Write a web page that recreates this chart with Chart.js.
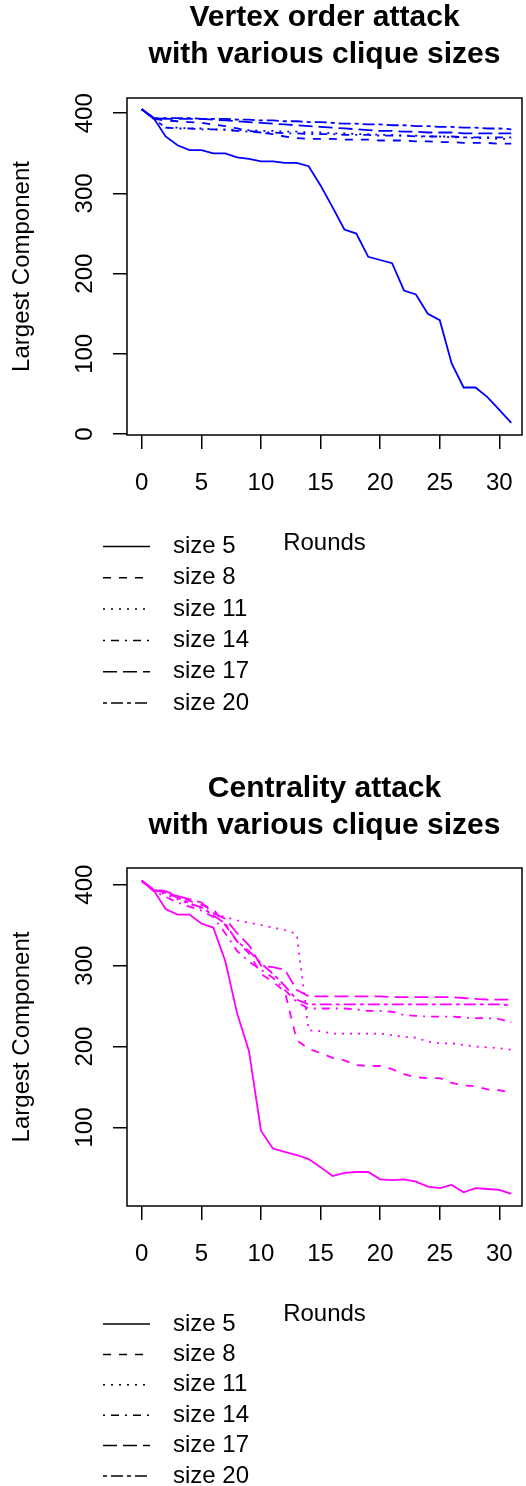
<!DOCTYPE html>
<html>
<head>
<meta charset="utf-8">
<script src="https://cdn.jsdelivr.net/npm/chart.js@4.4.0/dist/chart.umd.min.js"></script>
<style>
  body { margin: 0; background: #fff; }
  canvas { display: block; }
</style>
</head>
<body>
<canvas id="vertexChart" width="526" height="743"></canvas>
<canvas id="centralityChart" width="526" height="743"></canvas>
<script>
const rounds = [0, 1, 2, 3, 4, 5, 6, 7, 8, 9, 10, 11, 12, 13, 14, 15, 16, 17, 18, 19, 20, 21, 22, 23, 24, 25, 26, 27, 28, 29, 30, 31];
const xTicks = [0, 5, 10, 15, 20, 25, 30];
const vertexYTicks = [0, 100, 200, 300, 400];
const centralityYTicks = [100, 200, 300, 400];
const sizeLabels = ['size 5', 'size 8', 'size 11', 'size 14', 'size 17', 'size 20'];
// R lty 1..6 : solid, dashed, dotted, dotdash, longdash, twodash
const dashPatterns = [[], [8, 8], [2, 6], [2, 6, 8, 6], [14, 6], [4, 4, 12, 4]];

// Vertex order attack
const vertex5 = [405, 394, 371, 360, 354, 354, 350, 350, 345, 343, 340, 340, 338, 338, 334, 310, 283, 255, 250, 221, 217, 213, 179, 174, 150, 142, 88, 58, 58, 46, 30, 14];
const vertex8 = [405, 393, 391, 390, 389, 388, 386, 384, 381, 378, 376, 374, 371, 369, 368, 368, 368, 367, 367, 367, 366, 366, 366, 365, 365, 364, 364, 363, 363, 363, 362, 362];
const vertex11 = [405, 393, 382, 382, 381, 381, 380, 380, 379, 379, 378, 378, 377, 377, 376, 376, 375, 375, 374, 374, 373, 373, 372, 372, 371, 371, 370, 370, 369, 369, 368, 368];
const vertex14 = [405, 393, 382, 381, 381, 380, 380, 379, 378, 377, 376, 376, 375, 375, 374, 374, 374, 373, 373, 373, 372, 372, 372, 371, 371, 371, 371, 370, 370, 370, 370, 370];
const vertex17 = [405, 394, 393, 393, 393, 393, 392, 391, 390, 389, 388, 387, 386, 385, 384, 383, 382, 381, 380, 379, 378, 378, 377, 377, 376, 376, 376, 375, 375, 375, 375, 375];
const vertex20 = [405, 394, 394, 394, 394, 393, 393, 393, 392, 392, 391, 391, 390, 390, 389, 389, 388, 387, 387, 386, 386, 385, 385, 384, 384, 383, 383, 382, 382, 381, 381, 380];

// Centrality attack
const central5 = [404, 393, 370, 363, 363, 352, 347, 306, 241, 194, 96, 74, 70, 66, 61, 51, 40, 44, 45, 45, 36, 35, 36, 33, 27, 25, 29, 20, 25, 24, 23, 18];
const central8 = [405, 394, 390, 386, 380, 375, 370, 350, 330, 315, 290, 280, 268, 208, 197, 192, 186, 183, 177, 176, 176, 172, 166, 162, 161, 161, 155, 152, 151, 147, 146, 143];
const central11 = [405, 393, 388, 382, 376, 371, 365, 360, 356, 353, 350, 347, 344, 339, 220, 219, 216, 216, 216, 216, 216, 214, 212, 211, 206, 204, 204, 202, 200, 199, 198, 196];
const central14 = [405, 392, 385, 378, 373, 368, 360, 340, 318, 305, 295, 285, 270, 255, 247, 247, 247, 247, 246, 244, 244, 243, 239, 238, 237, 237, 237, 236, 235, 235, 234, 230];
const central17 = [405, 394, 392, 386, 382, 378, 365, 358, 340, 325, 300, 298, 295, 270, 262, 262, 262, 262, 262, 262, 262, 261, 261, 261, 261, 261, 261, 260, 259, 258, 258, 258];
const central20 = [405, 393, 390, 384, 377, 372, 362, 352, 330, 318, 303, 290, 275, 258, 252, 252, 252, 252, 252, 252, 252, 252, 252, 252, 252, 252, 252, 252, 252, 252, 252, 251];

const fontFamily = '"Liberation Sans", Arial, Helvetica, sans-serif';

// draws the box, titles, rotated y labels and the legend the R way
const decorations = {
    id: 'decorations',
    afterDraw(chart, args, opts) {
        const ctx = chart.ctx;
        const area = chart.chartArea;
        const yScale = chart.scales.y;
        const cx = (area.left + area.right) / 2;
        ctx.save();
        ctx.strokeStyle = '#000';
        ctx.lineWidth = 1.5;
        ctx.strokeRect(area.left, area.top, area.right - area.left, area.bottom - area.top);

        ctx.fillStyle = '#000';
        ctx.textAlign = 'center';
        ctx.textBaseline = 'middle';
        ctx.font = 'bold 30px ' + fontFamily;
        opts.title.forEach((line, i) => ctx.fillText(line, cx, opts.titleY + i * 37));

        ctx.font = '24px ' + fontFamily;
        opts.yTicks.forEach(v => {
            ctx.save();
            ctx.translate(85, yScale.getPixelForValue(v));
            ctx.rotate(-Math.PI / 2);
            ctx.fillText(String(v), 0, 0);
            ctx.restore();
        });
        ctx.save();
        ctx.translate(22, (area.top + area.bottom) / 2);
        ctx.rotate(-Math.PI / 2);
        ctx.fillText('Largest Component', 0, 0);
        ctx.restore();

        ctx.fillText('Rounds', cx, opts.roundsY);

        ctx.textAlign = 'left';
        chart.data.datasets.forEach((ds, i) => {
            const y = opts.legendY + i * opts.legendStep;
            ctx.beginPath();
            ctx.setLineDash(ds.borderDash);
            ctx.lineWidth = 1.5;
            ctx.moveTo(103, y);
            ctx.lineTo(150, y);
            ctx.stroke();
            ctx.setLineDash([]);
            ctx.fillText(ds.label, 173, y);
        });
        ctx.restore();
    }
};

function buildChart(id, series, color, cfg) {
    const axisGrid = { drawOnChartArea: false, drawTicks: true, tickLength: 14, color: '#000', lineWidth: 1.5 };
    return new Chart(document.getElementById(id), {
        type: 'line',
        data: {
            datasets: series.map((values, i) => ({
                label: sizeLabels[i],
                data: values.map((v, j) => ({ x: rounds[j], y: v })),
                borderColor: color,
                borderDash: dashPatterns[i],
                borderWidth: 1.8,
                pointRadius: 0,
                tension: 0,
                fill: false
            }))
        },
        options: {
            responsive: false,
            animation: false,
            layout: { padding: { top: cfg.top, right: 4, bottom: cfg.bottom, left: 0 } },
            plugins: {
                legend: { display: false },
                tooltip: { enabled: false },
                decorations: {
                    title: cfg.title,
                    titleY: cfg.titleY,
                    yTicks: cfg.yTicks,
                    roundsY: cfg.roundsY,
                    legendY: cfg.legendY,
                    legendStep: cfg.legendStep
                }
            },
            scales: {
                x: {
                    type: 'linear',
                    min: -1.24,
                    max: 31.9,
                    afterBuildTicks: s => { s.ticks = xTicks.map(v => ({ value: v })); },
                    afterFit: s => { s.height = 64; s.paddingLeft = 0; s.paddingRight = 0; },
                    grid: axisGrid,
                    border: { display: false },
                    ticks: { color: '#000', font: { family: fontFamily, size: 24 }, padding: 20, maxRotation: 0, autoSkip: false }
                },
                y: {
                    type: 'linear',
                    min: cfg.yMin,
                    max: cfg.yMax,
                    afterBuildTicks: s => { s.ticks = cfg.yTicks.map(v => ({ value: v })); },
                    afterFit: s => { s.width = 127; s.paddingTop = 0; s.paddingBottom = 0; },
                    grid: axisGrid,
                    border: { display: false },
                    ticks: { display: false }
                }
            }
        },
        plugins: [decorations]
    });
}

buildChart('vertexChart', [vertex5, vertex8, vertex11, vertex14, vertex17, vertex20], '#0000ff', {
    top: 98, bottom: 244, yMin: -1.2, yMax: 419, yTicks: vertexYTicks,
    title: ['Vertex order attack', 'with various clique sizes'], titleY: 18,
    roundsY: 543.5, legendY: 546.5, legendStep: 31.3
});

buildChart('centralityChart', [central5, central8, central11, central14, central17, central20], '#ff00ff', {
    top: 125, bottom: 216, yMin: 3, yMax: 420.6, yTicks: centralityYTicks,
    title: ['Centrality attack', 'with various clique sizes'], titleY: 46,
    roundsY: 571, legendY: 581, legendStep: 30.4
});
</script>
</body>
</html>
